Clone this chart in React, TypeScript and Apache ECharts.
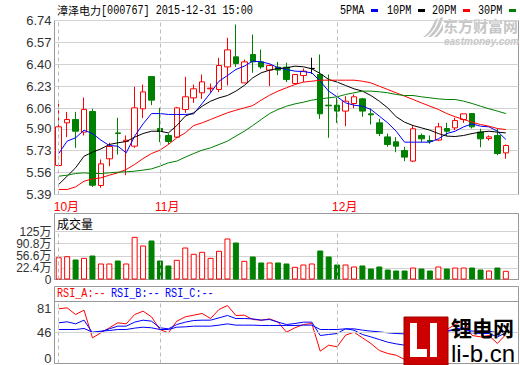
import React, { useEffect, useRef } from "react";
import * as echarts from "echarts";

const stockName = "漳泽电力";
const stockCode = "[000767]";
const stampDate = "2015-12-31";
const stampTime = "15:00";

const monthLabels = ["10月", "11月", "12月"];
const monthStartIdx = [0, 12, 33];

// [open, close, low, high]
const candles: number[][] = [
  [5.615, 5.915, 5.615, 6.094],
  [5.946, 5.972, 5.835, 6.031],
  [5.972, 5.881, 5.752, 6.031],
  [5.874, 6.05, 5.848, 6.143],
  [6.034, 5.462, 5.449, 6.055],
  [5.46, 5.628, 5.442, 5.662],
  [5.667, 5.762, 5.61, 5.791],
  [5.868, 5.863, 5.7, 5.985],
  [5.801, 5.811, 5.54, 5.848],
  [5.765, 6.062, 5.752, 6.225],
  [6.055, 6.186, 5.982, 6.243],
  [6.305, 6.122, 6.083, 6.305],
  [5.902, 5.879, 5.796, 6.062],
  [5.848, 5.801, 5.778, 5.863],
  [5.835, 6.062, 5.83, 6.07],
  [6.05, 6.148, 6.024, 6.303],
  [6.14, 6.21, 6.101, 6.243],
  [6.179, 6.264, 6.132, 6.321],
  [6.21, 6.215, 6.179, 6.251],
  [6.205, 6.391, 6.184, 6.45],
  [6.38, 6.512, 6.236, 6.606],
  [6.458, 6.406, 6.38, 6.709],
  [6.256, 6.419, 6.256, 6.437],
  [6.476, 6.419, 6.334, 6.631],
  [6.419, 6.38, 6.365, 6.515],
  [6.355, 6.391, 6.231, 6.399],
  [6.378, 6.355, 6.316, 6.419],
  [6.378, 6.282, 6.262, 6.412],
  [6.251, 6.321, 6.251, 6.321],
  [6.313, 6.347, 6.262, 6.368],
  [6.368, 6.368, 6.326, 6.451],
  [6.321, 6.016, 5.977, 6.476],
  [6.083, 6.078, 5.83, 6.321],
  [6.083, 6.037, 5.946, 6.14],
  [6.037, 6.114, 5.92, 6.153],
  [6.096, 6.148, 6.06, 6.166],
  [6.132, 6.037, 5.993, 6.14],
  [6.016, 6.008, 5.933, 6.057],
  [5.946, 5.863, 5.843, 5.977],
  [5.837, 5.778, 5.76, 5.863],
  [5.799, 5.765, 5.718, 5.835],
  [5.731, 5.68, 5.649, 5.76],
  [5.649, 5.9, 5.641, 5.928],
  [5.848, 5.822, 5.796, 5.863],
  [5.809, 5.801, 5.783, 5.848],
  [5.812, 5.915, 5.804, 5.946],
  [5.902, 5.881, 5.843, 5.946],
  [5.907, 5.964, 5.889, 5.985],
  [5.972, 6.016, 5.946, 6.016],
  [6.018, 5.915, 5.902, 6.018],
  [5.874, 5.822, 5.757, 5.9],
  [5.824, 5.837, 5.809, 5.848],
  [5.848, 5.708, 5.695, 5.9],
  [5.713, 5.77, 5.667, 5.778],
];

const ma5 = [
  5.708, 5.804, 5.83, 5.889, 5.863, 5.812, 5.77, 5.765, 5.713, 5.843, 5.938, 6.018, 6.018, 6.011,
  6.011, 6.011, 6.016, 6.096, 6.179, 6.269, 6.313, 6.36, 6.386, 6.425, 6.419, 6.404, 6.373, 6.36,
  6.347, 6.344, 6.334, 6.269, 6.192, 6.148, 6.101, 6.083, 6.075, 6.05, 5.998, 5.946, 5.881, 5.796,
  5.796, 5.796, 5.796, 5.822, 5.863, 5.881, 5.915, 5.938, 5.92, 5.915, 5.881, 5.817,
];
const ma10 = [
  5.468, 5.532, 5.597, 5.687, 5.718, 5.744, 5.778, 5.791, 5.801, 5.835, 5.863, 5.881, 5.881, 5.868,
  5.925, 5.998, 6.024, 6.075, 6.114, 6.14, 6.158, 6.192, 6.236, 6.295, 6.334, 6.355, 6.368, 6.373,
  6.386, 6.381, 6.365, 6.329, 6.282, 6.262, 6.236, 6.21, 6.192, 6.158, 6.114, 6.062, 5.993, 5.951,
  5.925, 5.907, 5.889, 5.863, 5.843, 5.84, 5.848, 5.863, 5.874, 5.881, 5.874, 5.868,
];
const ma20 = [
  5.429, 5.429, 5.449, 5.493, 5.511, 5.519, 5.54, 5.558, 5.584, 5.623, 5.669, 5.708, 5.734, 5.778,
  5.83, 5.868, 5.925, 5.946, 5.972, 5.998, 6.024, 6.044, 6.062, 6.08, 6.122, 6.161, 6.192, 6.218,
  6.243, 6.262, 6.269, 6.277, 6.277, 6.277, 6.277, 6.277, 6.269, 6.256, 6.23, 6.205, 6.179, 6.153,
  6.127, 6.101, 6.075, 6.05, 6.018, 5.993, 5.972, 5.951, 5.933, 5.92, 5.902, 5.894,
];
const ma30 = [
  5.532, 5.54, 5.553, 5.558, 5.553, 5.553, 5.558, 5.563, 5.566, 5.571, 5.579, 5.589, 5.61, 5.636,
  5.649, 5.68, 5.708, 5.734, 5.752, 5.778, 5.804, 5.843, 5.881, 5.925, 5.972, 6.018, 6.05, 6.075,
  6.093, 6.106, 6.122, 6.132, 6.14, 6.148, 6.166, 6.179, 6.192, 6.192, 6.187, 6.179, 6.166, 6.158,
  6.158, 6.148, 6.14, 6.132, 6.127, 6.127, 6.114, 6.096, 6.075, 6.055, 6.037, 6.018,
];

// volume in 万
const volume = [
  58.1, 60.7, 52.1, 56.4, 62.5, 41.7, 41.7, 49.5, 41.7, 111.1, 88.5, 101.6, 49.5, 36.5, 51.2, 83.3,
  66.9, 72.1, 56.4, 74.7, 106.8, 96.3, 48.6, 59.9, 44.3, 44.3, 44.3, 41.7, 33.0, 39.1, 41.7, 75.5,
  59.9, 39.1, 39.1, 33.9, 36.5, 28.6, 33.9, 26.0, 23.4, 23.4, 31.2, 28.6, 23.4, 33.9, 28.6, 31.2,
  31.2, 31.2, 26.0, 23.4, 31.2, 22.6,
];

const rsiA = [
  80.3, 81.7, 71.9, 78.3, 37.7, 45.0, 52.4, 59.7, 58.2, 71.9, 76.8, 68.5, 49.9, 45.0, 62.1, 68.5,
  70.9, 73.4, 66.0, 79.3, 85.1, 70.5, 70.9, 64.6, 63.6, 65.5, 60.7, 46.0, 52.4, 57.2, 58.7, 18.1,
  26.9, 24.5, 41.6, 46.0, 37.7, 29.4, 19.1, 14.7, 12.2, 5.9, 42.6, 47.5, 45.0, 49.9, 49.9, 57.2,
  63.6, 41.1, 39.1, 41.1, 29.4, 42.6,
];
const rsiB = [
  59.7, 61.2, 58.2, 63.6, 45.0, 46.5, 50.9, 54.8, 54.8, 60.7, 63.6, 62.1, 52.4, 50.9, 57.2, 60.7,
  63.1, 63.6, 63.6, 67.0, 70.5, 66.0, 66.0, 65.5, 63.6, 64.6, 60.7, 57.2, 58.7, 60.7, 60.7, 41.1,
  42.6, 44.0, 50.9, 48.9, 42.6, 39.1, 35.2, 31.3, 28.8, 26.9, 42.6, 45.0, 44.0, 45.0, 47.5, 50.9,
  52.4, 45.0, 44.0, 44.0, 39.1, 45.0,
];
const rsiC = [
  49.9, 49.9, 49.9, 51.4, 46.0, 47.5, 48.4, 49.9, 49.9, 51.9, 53.3, 52.4, 49.9, 49.9, 53.3, 53.8,
  54.8, 54.8, 54.8, 56.3, 58.2, 56.3, 56.3, 56.3, 55.8, 55.8, 55.8, 55.8, 55.8, 56.3, 56.3, 49.9,
  49.9, 49.9, 50.9, 50.9, 48.9, 47.5, 46.5, 45.0, 44.0, 43.5, 46.0, 46.5, 46.5, 47.5, 47.5, 48.9,
  49.9, 47.5, 47.5, 47.5, 45.0, 47.5,
];

const priceTicks = [5.39, 5.56, 5.73, 5.9, 6.06, 6.23, 6.4, 6.57, 6.74];
const volumeMax = 125;
const volumeTicks = [22.4, 56.6, 90.8, 125];
const volumeTickFloor = -10; // where the reference's tick scale would reach zero height
const rsiTicks = [0, 46, 81];
const rsiMax = 91;
const rsiGuide = 46;

const maNames = ["5PMA", "10PM", "20PM", "30PM"];
const rsiNames = ["RSI_A:--", "RSI_B:--", "RSI_C:--"];

// ---------- styles ----------
const RED = "#ff0000";
const GREEN = "#008000";
const BLUE = "#0000ff";
const maColors = [BLUE, "#000000", RED, GREEN];
const rsiColors = [RED, BLUE, BLUE];
const BORDER = "#999999";
const GRIDLINE = "#d2d2d2";
const DASH = "#bcbcbc";
const LABEL = "#333333";
const AXIS_FONT = '"Liberation Sans", "Noto Sans CJK SC", sans-serif';
const CJK_FONT = '"Noto Sans CJK SC", sans-serif';
const MONO_FONT = '13px "Liberation Mono", monospace';

const categories = Array.from({ length: candles.length + 1 }, (_, i) => "d" + i);

const EM_LOGO =
  "M0 20 C5 17 9 11 12 3 L15 1 C13 10 8 17 2 20 Z M5 20 C10 16 14 10 17 1 L20 0 C18 10 13 17 8 20 Z M11 20 C15 16 18 12 20 7 L20 13 C18 16 16 18 14 20 Z";
echarts.graphic.registerShape("emlogo", echarts.graphic.extendPath(EM_LOGO, {}));

const monoText = (x: number, y: number, text: string, fill: string) => ({
  type: "text",
  x,
  y,
  scaleX: 0.78,
  silent: true,
  style: { text, fill, font: MONO_FONT, textVerticalAlign: "middle" },
});

const monthMarkLine = (extra: any[] = []) => ({
  silent: true,
  symbol: ["none", "none"],
  label: { show: false },
  emphasis: { disabled: true },
  lineStyle: { color: DASH, type: [4, 3], width: 1 },
  data: [...monthStartIdx.map((i) => ({ xAxis: categories[i] })), ...extra],
});

function buildOption() {
  const grids = [
    { left: 54.5, top: 20.5, width: 464, height: 174 },
    { left: 54.5, top: 231.5, width: 464, height: 48 },
    { left: 54.5, top: 301.5, width: 464, height: 62 },
  ].map((g) => ({ ...g, show: true, borderColor: BORDER, borderWidth: 1, containLabel: false }));

  const xAxis = [0, 1, 2].map((g) => ({
    type: "category",
    gridIndex: g,
    data: categories,
    boundaryGap: true,
    axisLine: { show: false },
    axisTick: { show: false },
    splitLine: { show: false },
    axisLabel:
      g === 0
        ? {
            show: true,
            interval: (i: number) => monthStartIdx.includes(i),
            formatter: (_v: string, i: number) => monthLabels[monthStartIdx.indexOf(i)] ?? "",
            color: RED,
            fontSize: 12,
            fontFamily: AXIS_FONT,
            margin: 6,
            align: "left",
            padding: [0, 0, 0, -5],
          }
        : { show: false },
  }));

  const yBase = {
    type: "value",
    position: "left",
    axisLine: { show: false },
  };
  const labelStyle = {
    color: LABEL,
    fontSize: 13,
    fontFamily: AXIS_FONT,
    margin: 3,
    lineHeight: 11,
    showMinLabel: true,
    showMaxLabel: true,
    hideOverlap: false,
  };

  const yAxis = [
    {
      ...yBase,
      gridIndex: 0,
      min: priceTicks[0],
      max: priceTicks[priceTicks.length - 1],
      axisTick: { show: false, customValues: priceTicks },
      axisLabel: { ...labelStyle, customValues: priceTicks, formatter: (v: number) => v.toFixed(2) },
      splitLine: { show: true, lineStyle: { color: GRIDLINE } },
    },
    {
      // volume data axis (bars)
      ...yBase,
      gridIndex: 1,
      min: 0,
      max: volumeMax,
      axisTick: { show: false, customValues: [0] },
      axisLabel: { ...labelStyle, fontSize: 12, customValues: [0], formatter: () => "0" },
      splitLine: { show: false },
    },
    {
      // volume tick labels, placed as in the reference
      ...yBase,
      gridIndex: 1,
      min: volumeTickFloor,
      max: volumeMax,
      axisTick: { show: false, customValues: volumeTicks },
      axisLabel: {
        ...labelStyle,
        fontSize: 12,
        lineHeight: 10,
        customValues: volumeTicks,
        formatter: (v: number) => v + "万",
      },
      splitLine: { show: true, lineStyle: { color: GRIDLINE } },
    },
    {
      ...yBase,
      gridIndex: 2,
      min: 0,
      max: rsiMax,
      axisTick: { show: false, customValues: rsiTicks },
      axisLabel: { ...labelStyle, customValues: rsiTicks, verticalAlignMinLabel: "bottom" },
      splitLine: { show: false },
    },
  ];

  const series: any[] = [
    {
      type: "candlestick",
      name: "K",
      xAxisIndex: 0,
      yAxisIndex: 0,
      data: candles,
      barWidth: 6,
      itemStyle: {
        color: "#ffffff",
        color0: GREEN,
        borderColor: RED,
        borderColor0: GREEN,
        borderColorDoji: "#000000",
        borderWidth: 1,
      },
      markLine: monthMarkLine(),
    },
    ...[ma5, ma10, ma20, ma30].map((d, k) => ({
      type: "line",
      name: maNames[k],
      xAxisIndex: 0,
      yAxisIndex: 0,
      data: d,
      symbol: "none",
      showSymbol: false,
      lineStyle: { color: maColors[k], width: 1 },
      itemStyle: { color: maColors[k] },
    })),
    {
      type: "bar",
      name: "成交量",
      xAxisIndex: 1,
      yAxisIndex: 1,
      barWidth: 6,
      data: volume.map((v, i) => ({
        value: v,
        itemStyle:
          candles[i][1] >= candles[i][0]
            ? { color: "#ffffff", borderColor: RED, borderWidth: 1 }
            : { color: GREEN, borderColor: GREEN, borderWidth: 1 },
      })),
      markLine: monthMarkLine(),
    },
    ...[rsiA, rsiB, rsiC].map((d, k) => ({
      type: "line",
      name: rsiNames[k],
      xAxisIndex: 2,
      yAxisIndex: 3,
      data: d,
      symbol: "none",
      showSymbol: false,
      lineStyle: { color: rsiColors[k], width: 1 },
      itemStyle: { color: rsiColors[k] },
      markLine:
        k === 0
          ? monthMarkLine([{ yAxis: rsiGuide, lineStyle: { type: "solid", color: GRIDLINE } }])
          : undefined,
    })),
  ];

  const legendX = [340, 387, 432, 478];
  const graphic: any[] = [
    {
      type: "text",
      x: 57,
      y: 10,
      silent: true,
      style: { text: stockName, fill: "#000", font: `11px ${CJK_FONT}`, textVerticalAlign: "middle" },
    },
    monoText(101, 10, `${stockCode} ${stampDate} ${stampTime}`, "#000"),
    ...maNames.flatMap((n, k) => [
      monoText(legendX[k], 10, n, "#000"),
      {
        type: "rect",
        silent: true,
        shape: { x: legendX[k] + 31, y: 9, width: 7, height: 3 },
        style: { fill: maColors[k] },
      },
    ]),
    // eastmoney watermark
    { type: "emlogo", x: 423, y: 17, scaleX: 1, scaleY: 1, silent: true, style: { fill: "#c6c6c6" } },
    {
      type: "text",
      x: 443,
      y: 25,
      silent: true,
      style: {
        text: "东方财富网",
        fill: "#c6c6c6",
        font: `bold 15px ${CJK_FONT}`,
        lineHeight: 15,
        textVerticalAlign: "middle",
      },
    },
    {
      type: "text",
      x: 444,
      y: 41,
      silent: true,
      style: {
        text: "eastmoney.com",
        fill: "#c6c6c6",
        font: 'italic bold 10px "Liberation Sans"',
        lineHeight: 9,
        textVerticalAlign: "middle",
      },
    },
    // volume panel frame
    {
      type: "rect",
      silent: true,
      shape: { x: 54.5, y: 213.5, width: 464, height: 66 },
      style: { fill: "none", stroke: BORDER, lineWidth: 1 },
    },
    {
      type: "text",
      x: 57,
      y: 223,
      silent: true,
      style: { text: "成交量", fill: "#000", font: `12px ${CJK_FONT}`, textVerticalAlign: "middle" },
    },
    // RSI panel frame
    {
      type: "rect",
      silent: true,
      shape: { x: 54.5, y: 286.5, width: 464, height: 77 },
      style: { fill: "none", stroke: BORDER, lineWidth: 1 },
    },
    ...rsiNames.map((n, k) => monoText(57 + k * 54, 293, n, rsiColors[k])),
    // li-b.cn logo
    {
      type: "group",
      z: 100,
      silent: true,
      children: [
        {
          type: "rect",
          z: 100,
          shape: { x: 404, y: 317, width: 44, height: 48 },
          style: { fill: "#cc0000", stroke: "#a00000", lineWidth: 1 },
        },
        {
          type: "polygon",
          z: 101,
          shape: {
            points: [
              [410, 323],
              [417, 323],
              [417, 349],
              [427, 349],
              [427, 357],
              [410, 357],
            ],
          },
          style: { fill: "#ffffff" },
        },
        {
          type: "rect",
          z: 101,
          shape: { x: 430, y: 323, width: 7, height: 34 },
          style: { fill: "#ffffff" },
        },
        {
          type: "text",
          z: 101,
          x: 451,
          y: 327,
          style: {
            text: "锂电网",
            fill: "#000",
            font: `bold 21px ${CJK_FONT}`,
            lineHeight: 20,
            textVerticalAlign: "middle",
          },
        },
        {
          type: "text",
          z: 101,
          x: 451,
          y: 353,
          style: {
            text: "li-b.cn",
            fill: "#000",
            font: '24px "Liberation Sans"',
            lineHeight: 20,
            textVerticalAlign: "middle",
          },
        },
      ],
    },
  ];

  return {
    animation: false,
    backgroundColor: "#ffffff",
    grid: grids,
    xAxis,
    yAxis,
    series,
    graphic,
  };
}

export default function App() {
  const ref = useRef<HTMLDivElement>(null);
  useEffect(() => {
    if (!ref.current) return;
    const chart = echarts.init(ref.current, null, { renderer: "svg" });
    chart.setOption(buildOption() as any);
    return () => chart.dispose();
  }, []);
  return (
    <div
      ref={ref}
      style={{ position: "fixed", left: 0, top: 0, width: 520, height: 365, background: "#fff" }}
    />
  );
}
